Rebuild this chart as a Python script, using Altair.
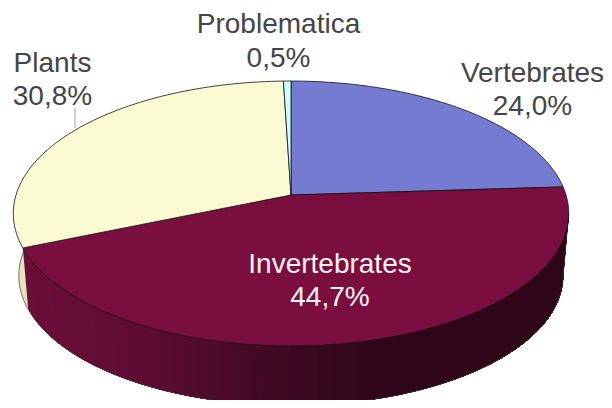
import math
import altair as alt

# --- chart values -------------------------------------------------------
categories = ["Vertebrates", "Invertebrates", "Plants", "Problematica"]
shares = [24.0, 44.7, 30.8, 0.5]
share_labels = ["24,0%", "44,7%", "30,8%", "0,5%"]
face_colors = ["#767BD2", "#7A0E3E", "#FAFAD2", "#CCFFFF"]

# --- layout -------------------------------------------------------------
APEX_X, APEX_Y = 291.0, 195.0
RX, RY, PERSPECTIVE = 275.0, 129.9, 0.1396
WALL_SCALE, WALL_DROP = 0.98, 62.5
RIGHT_TANGENT, LEFT_TANGENT = 98.0, 278.0
PAGE = 8
WALL_STOPS = [(20, (0x6C, 0x0E, 0x39)), (150, (0x5C, 0x0C, 0x31)), (250, (0x45, 0x0A, 0x26)),
              (330, (0x36, 0x07, 0x1D)), (420, (0x2E, 0x06, 0x18)), (612, (0x2E, 0x06, 0x18))]
SIDE_COLOR = "#E6E4BC"
LABELS = {
    "Problematica": (278.5, 33, 67, "#454545"),
    "Plants": (52.5, 72, 105, "#454545"),
    "Vertebrates": (532.5, 82, 115, "#454545"),
    "Invertebrates": (330, 273, 306, "#FAF4F6"),
}


def project(theta_deg, scale=1.0, drop=0.0):
    t = math.radians(theta_deg)
    sx, sy = math.sin(t), math.cos(t)
    d = 1 + PERSPECTIVE * sy
    return [APEX_X + scale * RX * sx / d, APEX_Y + drop - scale * RY * sy / d]


def arc(a, b, scale=1.0, drop=0.0, n=None):
    n = n or max(2, int(abs(b - a) / 1.5) + 2)
    return [project(a + (b - a) * i / (n - 1), scale, drop) for i in range(n)]


def feature(kind, coords, **props):
    return {"type": "Feature", "properties": props, "geometry": {"type": kind, "coordinates": coords}}


def collection(features):
    return alt.InlineData(
        values={"type": "FeatureCollection", "features": features},
        format=alt.DataFormat(property="features", type="json"),
    )


def wall_color(x):
    for (x0, c0), (x1, c1) in zip(WALL_STOPS, WALL_STOPS[1:]):
        if x <= x1:
            f = max(0.0, (x - x0) / (x1 - x0))
            return "#%02x%02x%02x" % tuple(round(p + (q - p) * f) for p, q in zip(c0, c1))
    return "#%02x%02x%02x" % WALL_STOPS[-1][1]


# slice angles, clockwise from twelve o'clock
edges = [0.0]
for s in shares:
    edges.append(edges[-1] + s * 3.6)

faces, walls = [], []
for i, name in enumerate(categories):
    ring = [[APEX_X, APEX_Y]] + arc(edges[i], edges[i + 1])
    ring.append(ring[0])
    faces.append(feature("Polygon", [ring], fill=face_colors[i], name=name))

# side wall: plants sliver on the left
a, b = edges[2], LEFT_TANGENT
side = arc(a, b) + arc(b, a, WALL_SCALE, WALL_DROP)
walls.append(feature("Polygon", [side + [side[0]]], fill=SIDE_COLOR))

# side wall: invertebrates, shaded by overlapping bands painted from the left
a, b = edges[2], RIGHT_TANGENT
steps = 60
for i in range(steps):
    s0 = a + (b - a) * i / steps
    band = arc(s0, b) + arc(b, s0, WALL_SCALE, WALL_DROP)
    xm = project(s0 + (b - a) / steps / 2)[0]
    walls.append(feature("Polygon", [band + [band[0]]], fill=wall_color(xm)))

silhouette = [feature(
    "LineString",
    [project(RIGHT_TANGENT)] + arc(RIGHT_TANGENT, LEFT_TANGENT, WALL_SCALE, WALL_DROP) + [project(LEFT_TANGENT)],
)]

leader = [feature("LineString", [[75, 108], [75, 128]])]

label_rows = []
for name, text in zip(categories, share_labels):
    x, y1, y2, col = LABELS[name]
    label_rows.append({"lon": x, "lat": y1, "text": name, "col": col})
    label_rows.append({"lon": x, "lat": y2, "text": text, "col": col})

proj = alt.Projection(type="identity", scale=1, translate=[-PAGE, -PAGE])

wall_layer = alt.Chart(collection(walls)).mark_geoshape(strokeWidth=0).encode(
    fill=alt.Fill("properties.fill:N", scale=None),
).project(**proj.to_dict())

outline_layer = alt.Chart(collection(silhouette)).mark_geoshape(
    filled=False, stroke="#3a3a3a", strokeWidth=0.7
).project(**proj.to_dict())

face_layer = alt.Chart(collection(faces)).mark_geoshape(stroke="#111111", strokeWidth=0.8).encode(
    fill=alt.Fill("properties.fill:N", scale=None),
).project(**proj.to_dict())

leader_layer = alt.Chart(collection(leader)).mark_geoshape(
    filled=False, stroke="#8a8a8a", strokeWidth=0.8
).project(**proj.to_dict())

text_layer = alt.Chart(alt.Data(values=label_rows)).mark_text(
    font="Liberation Sans", fontSize=28, align="center", baseline="alphabetic"
).encode(
    longitude="lon:Q",
    latitude="lat:Q",
    text="text:N",
    color=alt.Color("col:N", scale=None),
).project(**proj.to_dict())

chart = alt.layer(wall_layer, outline_layer, face_layer, leader_layer, text_layer).properties(
    width=596, height=392, padding=0, autosize=alt.AutoSizeParams(type="none"), background="#FFFFFF"
).configure_view(stroke=None)

chart.save("out.html", embed_options={"renderer": "svg", "actions": False})
